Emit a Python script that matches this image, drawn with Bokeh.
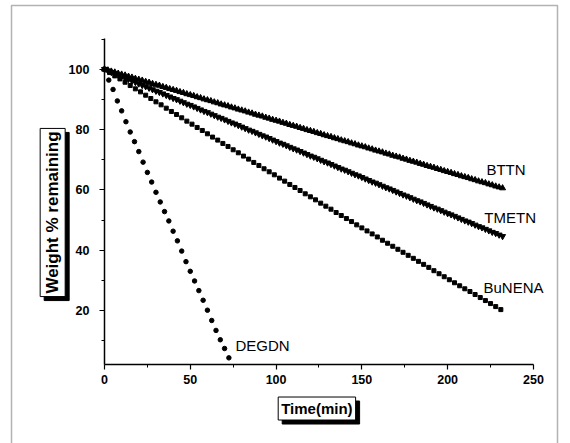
import math
from bokeh.plotting import figure
from bokeh.models import Range1d, Label, BoxAnnotation, FixedTicker, LinearAxis
from bokeh.embed import file_html
from bokeh.resources import INLINE

# ---- data ----
time_bttn = list(range(0, 233, 2))
bttn = [100.0, 99.7, 99.3, 99.0, 98.6, 98.3, 98.0, 97.6, 97.3, 96.9,
        96.6, 96.3, 95.9, 95.6, 95.2, 94.9, 94.6, 94.2, 93.9, 93.5,
        93.2, 92.9, 92.5, 92.2, 91.8, 91.5, 91.2, 90.8, 90.5, 90.1,
        89.8, 89.5, 89.1, 88.8, 88.4, 88.1, 87.8, 87.4, 87.1, 86.7,
        86.4, 86.1, 85.7, 85.4, 85.0, 84.7, 84.4, 84.0, 83.7, 83.3,
        83.0, 82.7, 82.3, 82.0, 81.6, 81.3, 81.0, 80.6, 80.3, 79.9,
        79.6, 79.3, 78.9, 78.6, 78.2, 77.9, 77.6, 77.2, 76.9, 76.5,
        76.2, 75.9, 75.5, 75.2, 74.8, 74.5, 74.2, 73.8, 73.5, 73.1,
        72.8, 72.5, 72.1, 71.8, 71.4, 71.1, 70.8, 70.4, 70.1, 69.7,
        69.4, 69.1, 68.7, 68.4, 68.0, 67.7, 67.4, 67.0, 66.7, 66.3,
        66.0, 65.7, 65.3, 65.0, 64.6, 64.3, 64.0, 63.6, 63.3, 62.9,
        62.6, 62.3, 61.9, 61.6, 61.2, 60.9, 60.6]

time_tmetn = list(range(0, 233, 2))
tmetn = [100.0, 99.5, 99.0, 98.6, 98.1, 97.6, 97.1, 96.7, 96.2, 95.7,
         95.2, 94.7, 94.3, 93.8, 93.3, 92.8, 92.4, 91.9, 91.4, 90.9,
         90.4, 90.0, 89.5, 89.0, 88.5, 88.1, 87.6, 87.1, 86.6, 86.1,
         85.7, 85.2, 84.7, 84.2, 83.8, 83.3, 82.8, 82.3, 81.9, 81.4,
         80.9, 80.4, 79.9, 79.5, 79.0, 78.5, 78.0, 77.6, 77.1, 76.6,
         76.1, 75.6, 75.2, 74.7, 74.2, 73.7, 73.3, 72.8, 72.3, 71.8,
         71.3, 70.9, 70.4, 69.9, 69.4, 69.0, 68.5, 68.0, 67.5, 67.0,
         66.6, 66.1, 65.6, 65.1, 64.7, 64.2, 63.7, 63.2, 62.7, 62.3,
         61.8, 61.3, 60.8, 60.4, 59.9, 59.4, 58.9, 58.4, 58.0, 57.5,
         57.0, 56.5, 56.1, 55.6, 55.1, 54.6, 54.1, 53.7, 53.2, 52.7,
         52.2, 51.8, 51.3, 50.8, 50.3, 49.8, 49.4, 48.9, 48.4, 47.9,
         47.5, 47.0, 46.5, 46.0, 45.6, 45.1, 44.6]

time_bunena = list(range(0, 232, 3))
bunena = [100.0, 98.9, 97.8, 96.8, 95.7, 94.6, 93.5, 92.5, 91.4, 90.3,
          89.2, 88.2, 87.1, 86.0, 85.0, 83.9, 82.8, 81.8, 80.7, 79.7,
          78.6, 77.5, 76.5, 75.4, 74.4, 73.3, 72.3, 71.2, 70.2, 69.1,
          68.1, 67.0, 66.0, 65.0, 63.9, 62.9, 61.8, 60.8, 59.8, 58.7,
          57.7, 56.7, 55.6, 54.6, 53.6, 52.5, 51.5, 50.5, 49.5, 48.4,
          47.4, 46.4, 45.4, 44.4, 43.3, 42.3, 41.3, 40.3, 39.3, 38.3,
          37.3, 36.3, 35.3, 34.3, 33.2, 32.2, 31.2, 30.2, 29.2, 28.2,
          27.2, 26.3, 25.3, 24.3, 23.3, 22.3, 21.3, 20.3]

time_degdn = [0, 2.5, 5, 7.5, 10, 12.5, 15, 17.5, 20, 22.5, 25, 27.5, 30, 32.5,
              35, 37.5, 40, 42.5, 45, 47.5, 50, 52.5, 55, 57.5, 60, 62.5, 65,
              67.5, 70, 72.5]
degdn = [100.0, 96.4, 93.3, 89.5, 86.2, 82.6, 79.2, 76.0, 72.7, 69.2,
         65.8, 62.6, 59.2, 56.0, 52.8, 49.7, 46.3, 43.1, 39.7, 36.2,
         33.0, 29.8, 26.6, 23.4, 20.1, 16.7, 13.4, 10.3, 7.4, 4.3]

x_ticks = [0, 50, 100, 150, 200, 250]
x_minor = [25, 75, 125, 175, 225]
y_ticks = [20, 40, 60, 80, 100]
y_minor = [10, 30, 50, 70, 90, 110]
x_bounds = (0, 250)
y_bounds = (2.1, 110.1)

series_labels = ["BTTN", "TMETN", "BuNENA", "DEGDN"]
label_pos = [(222.6, 66.8), (221.4, 50.9), (220.9, 27.7), (76.3, 8.4)]

FONT = "Liberation Sans"

# the frame fills the whole canvas; axes sit at fixed data positions inside it
p = figure(width=570, height=443, output_backend="svg", toolbar_location=None,
           x_range=Range1d(-60.6, 271.6), y_range=Range1d(-24.1, 122.8),
           x_axis_location=None, y_axis_location=None,
           min_border=0)
p.outline_line_color = None
p.grid.visible = False

xa = LinearAxis(fixed_location=y_bounds[0], bounds=x_bounds,
                ticker=FixedTicker(ticks=x_ticks, minor_ticks=x_minor))
ya = LinearAxis(fixed_location=x_bounds[0], bounds=y_bounds,
                ticker=FixedTicker(ticks=y_ticks, minor_ticks=y_minor))
p.add_layout(xa, "below")
p.add_layout(ya, "left")
for ax in (xa, ya):
    ax.major_tick_in = 0
    ax.major_tick_out = 5
    ax.minor_tick_in = 0
    ax.minor_tick_out = 3
    ax.axis_line_width = 1.5
    ax.major_tick_line_width = 1.2
    ax.major_label_text_font = FONT
    ax.major_label_text_font_style = "bold"
    ax.major_label_text_font_size = "12.5px"
    ax.major_label_text_color = "black"
    ax.axis_line_color = "black"
xa.major_label_standoff = 6
ya.major_label_standoff = 10

p.scatter(time_bttn, bttn, marker="triangle", size=6, color="black")
p.scatter(time_tmetn, tmetn, marker="inverted_triangle", size=6, color="black")
p.scatter(time_bunena, bunena, marker="square", size=4, color="black")
p.scatter(time_degdn, degdn, marker="circle", size=4.5, color="black")

for name, (lx, ly) in zip(series_labels, label_pos):
    p.add_layout(Label(x=lx, y=ly, text=name, text_font=FONT, text_font_size="15px",
                       text_baseline="middle", text_align="left", text_color="black"))

# axis titles in shadowed boxes
def boxed(text, x, y, angle, size, pad):
    common = dict(x=x, y=y, text=text, angle=angle, text_font=FONT,
                  text_font_size=size, text_font_style="bold",
                  text_align="center", text_baseline="middle", padding=pad)
    shadow = Label(x_offset=4, y_offset=-4, text_color="black",
                   background_fill_color="black", border_line_color="black", **common)
    main = Label(text_color="black", background_fill_color="white",
                 border_line_color="black", border_line_width=1, **common)
    p.add_layout(shadow)
    p.add_layout(main)

boxed("Time(min)", 123.8, -12.5, 0, "15px", 3)
boxed("Weight % remaining", -30.2, 52.5, math.pi / 2, "17px", 3)

# page border lines
p.add_layout(BoxAnnotation(left=11, right=557, top=5, bottom=460,
                           left_units="canvas", right_units="canvas",
                           top_units="canvas", bottom_units="canvas",
                           fill_alpha=0, line_color="black", line_width=1.5))

open("out.html", "w").write(file_html(p, INLINE))
